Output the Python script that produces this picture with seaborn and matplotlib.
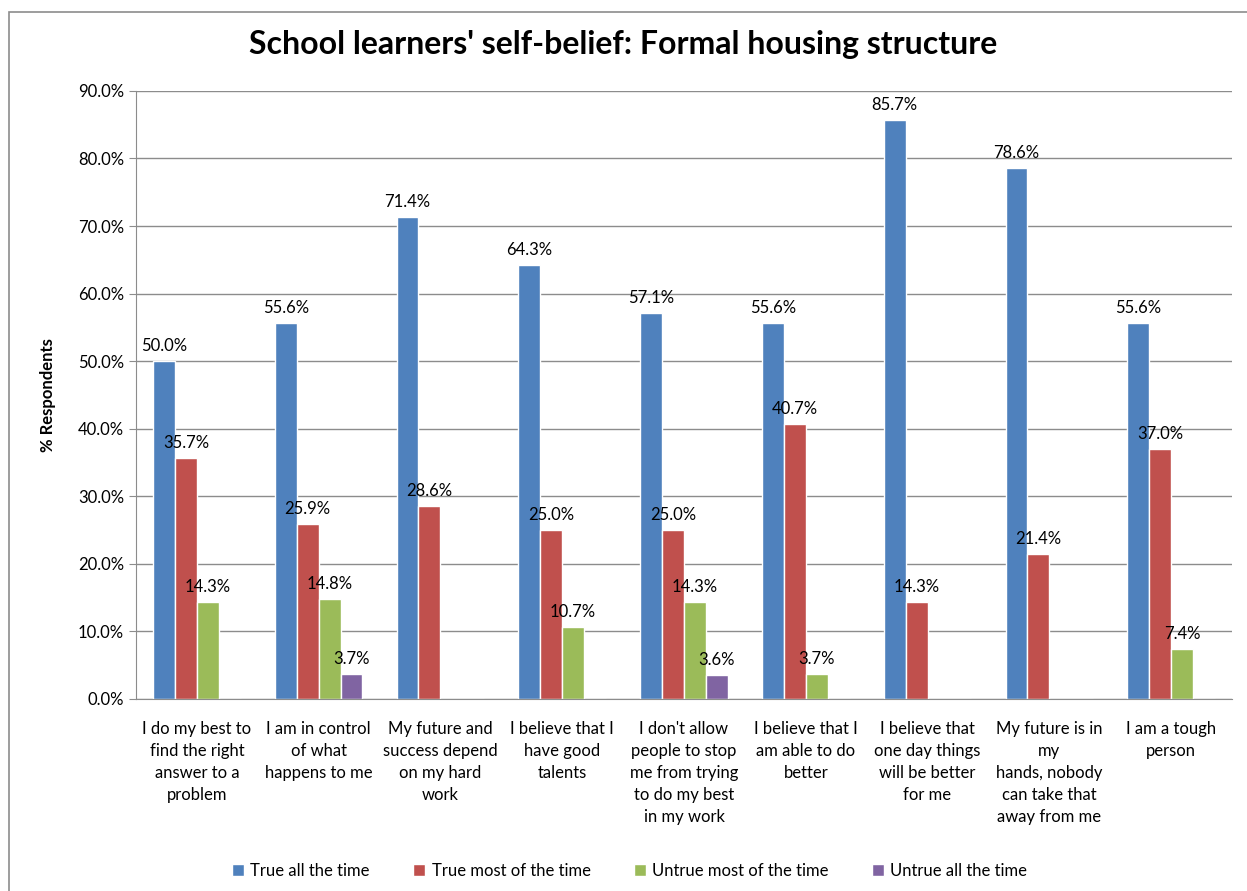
import pandas as pd
import matplotlib.pyplot as plt
import seaborn as sns
from matplotlib.patches import Rectangle

# Données
statements = [
    "I do my best to\nfind the right\nanswer to a\nproblem",
    "I am in control\nof what\nhappens to me",
    "My future and\nsuccess depend\non my hard\nwork",
    "I believe that I\nhave good\ntalents",
    "I don't allow\npeople to stop\nme from trying\nto do my best\nin my work",
    "I believe that I\nam able to do\nbetter",
    "I believe that\none day things\nwill be better\nfor me",
    "My future is in\nmy\nhands, nobody\ncan take that\naway from me",
    "I am a tough\nperson",
]
answers = ["True all the time", "True most of the time",
           "Untrue most of the time", "Untrue all the time"]
true_all = [50.0, 55.6, 71.4, 64.3, 57.1, 55.6, 85.7, 78.6, 55.6]
true_most = [35.7, 25.9, 28.6, 25.0, 25.0, 40.7, 14.3, 21.4, 37.0]
untrue_most = [14.3, 14.8, 0.0, 10.7, 14.3, 3.7, 0.0, 0.0, 7.4]
untrue_all = [0.0, 3.7, 0.0, 0.0, 3.6, 0.0, 0.0, 0.0, 0.0]
colors = ["#4F81BD", "#C0504D", "#9BBB59", "#8064A2"]

rows = []
for i, s in enumerate(statements):
    for a, vals in zip(answers, [true_all, true_most, untrue_most, untrue_all]):
        rows.append({"statement": s, "answer": a, "value": vals[i]})
df = pd.DataFrame(rows)

sns.set_style("white")
plt.rcParams['font.family'] = ['Lato', 'DejaVu Sans']
plt.rcParams['text.color'] = 'black'
plt.rcParams['xtick.color'] = 'black'
plt.rcParams['ytick.color'] = 'black'
plt.rcParams['axes.labelcolor'] = 'black'

fig = plt.figure(figsize=(12.47, 8.91), dpi=100)
ax = fig.add_axes([0.109, 0.2155, 0.879, 0.6825])

sns.barplot(data=df, x="statement", y="value", hue="answer",
            hue_order=answers, palette=colors, width=0.72,
            saturation=1, ax=ax, legend=True)

# étiquettes de valeurs (pas pour les zéros)
for cont in ax.containers:
    labels = [f"{b.get_height():.1f}%" if b.get_height() > 0 else "" for b in cont]
    ax.bar_label(cont, labels=labels, padding=5, fontsize=12)

ax.set_ylim(0, 90)
ax.set_yticks(range(0, 91, 10))
ax.set_yticklabels([f"{v:.1f}%" for v in range(0, 91, 10)], fontsize=12)
ax.yaxis.grid(True, color="#8C8C8C", linewidth=1)
ax.set_axisbelow(True)
ax.set_xlim(-0.5, 8.5)
ax.set_xticks(range(9))
ax.set_xticklabels(statements, fontsize=12, linespacing=1.45, va="top")
ax.set_xticks([i - 0.5 for i in range(10)], minor=True)
ax.tick_params(axis="x", which="major", length=0, pad=16)
ax.tick_params(axis="x", which="minor", length=5, color="#8C8C8C", direction="out")
ax.tick_params(axis="y", length=5, color="#8C8C8C", labelcolor="black",
               direction="out", left=True)
ax.set_xlabel("")
ax.set_ylabel("% Respondents", fontsize=12, fontweight="bold", labelpad=16)
for side in ["top", "right"]:
    ax.spines[side].set_visible(False)
for side in ["left", "bottom"]:
    ax.spines[side].set_color("#8C8C8C")

fig.suptitle("School learners' self-belief: Formal housing structure",
             fontsize=23, fontweight="bold", y=0.966, color="black")

ax.legend(loc="center", bbox_to_anchor=(0.505, 0.0225), bbox_transform=fig.transFigure,
          ncol=4, frameon=False, fontsize=12, handlelength=0.7, handleheight=0.7,
          columnspacing=2.6, handletextpad=0.4)

# cadre du graphique
fig.patches.append(Rectangle((0.007, -0.01), 1.0, 0.996, transform=fig.transFigure,
                             fill=False, edgecolor="#8C8C8C", linewidth=1.2))

fig.savefig("out.png", dpi=100)
